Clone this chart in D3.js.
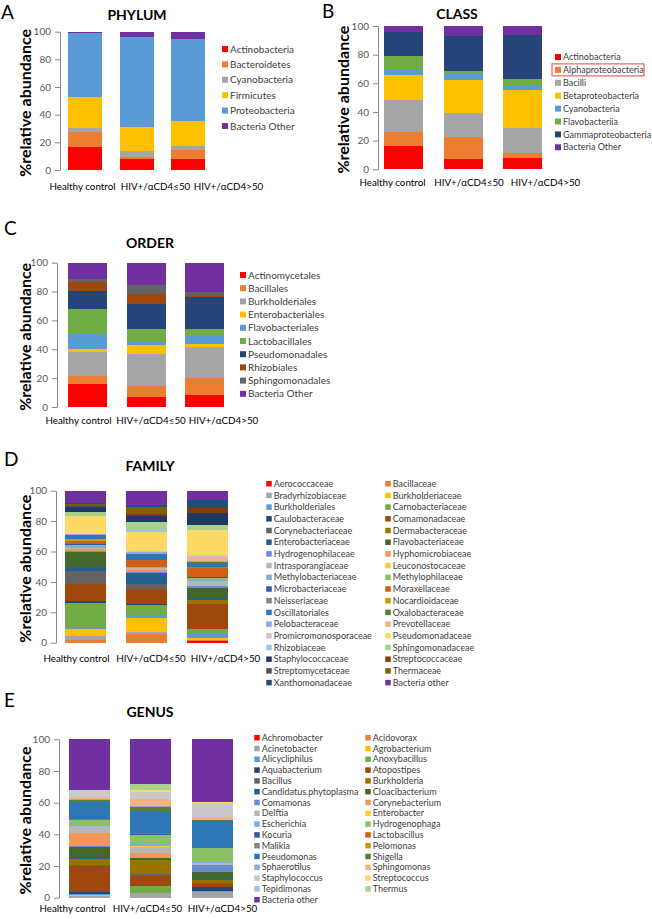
<!DOCTYPE html>
<html>
<head>
<meta charset="utf-8">
<script src="https://cdn.jsdelivr.net/npm/d3@7"></script>
<style>
  body { margin: 0; background: #fff; }
  text { font-family: Lato, "Noto Sans", sans-serif; }
</style>
</head>
<body>
<script>
const groups = ["Healthy control", "HIV+/αCD4≤50", "HIV+/αCD4>50"];

// A: phylum
const phylumNames = ["Actinobacteria", "Bacteroidetes", "Cyanobacteria", "Firmicutes", "Proteobacteria", "Bacteria Other"];
const phylumHealthy = [16.4, 10.8, 3.4, 22.2, 46.5, 0.7];
const phylumLow     = [7.7, 1.9, 4.1, 17.4, 65.3, 3.6];
const phylumHigh    = [8.2, 6.3, 3.1, 17.6, 59.7, 5.1];

// B: class
const classNames = ["Actinobacteria", "Alphaproteobacteria", "Bacilli", "Betaproteobacteria", "Cyanobacteria", "Flavobacteriia", "Gammaproteobacteria", "Bacteria Other"];
const classHealthy = [16.3, 9.7, 22.4, 17.6, 3.3, 10.0, 16.7, 4.0];
const classLow     = [7.0, 15.8, 16.2, 23.3, 4.2, 1.9, 24.9, 6.7];
const classHigh    = [7.9, 3.3, 17.6, 26.5, 2.8, 5.2, 30.2, 6.5];

// C: order
const orderNames = ["Actinomycetales", "Bacillales", "Burkholderiales", "Enterobacteriales", "Flavobacteriales", "Lactobacillales", "Pseudomonadales", "Rhizobiales", "Sphingomonadales", "Bacteria Other"];
const orderHealthy = [15.8, 6.0, 16.1, 2.3, 10.2, 17.3, 12.9, 6.0, 1.9, 11.5];
const orderLow     = [7.0, 7.5, 22.3, 6.0, 2.0, 9.0, 17.6, 6.9, 6.2, 15.5];
const orderHigh    = [8.0, 12.4, 21.2, 1.8, 5.8, 5.1, 22.1, 0.3, 2.7, 20.6];

// D: family
const familyNames = ["Aerococcaceae", "Bacillaceae", "Bradyrhizobiaceae", "Burkholderiaceae", "Burkholderiales", "Carnobacteriaceae",
  "Caulobacteraceae", "Comamonadaceae", "Corynebacteriaceae", "Dermabacteraceae", "Enterobacteriaceae", "Flavobacteriaceae",
  "Hydrogenophilaceae", "Hyphomicrobiaceae", "Intrasporangiaceae", "Leuconostocaceae", "Methylobacteriaceae", "Methylophilaceae",
  "Microbacteriaceae", "Moraxellaceae", "Neisseriaceae", "Nocardioidaceae", "Oscillatoriales", "Oxalobacteraceae",
  "Pelobacteraceae", "Prevotellaceae", "Promicromonosporaceae", "Pseudomonadaceae", "Rhizobiaceae", "Sphingomonadaceae",
  "Staphylococcaceae", "Streptococcaceae", "Streptomycetaceae", "Thermaceae", "Xanthomonadaceae", "Bacteria other"];
const familyHealthy = [0, 2.0, 2.5, 4.3, 1.7, 15.8, 1.2, 11.0, 8.9, 0, 2.2, 10.3, 0.3, 1.2, 0.8, 0.2, 1.5, 0.3,
  1.0, 1.5, 0.3, 1.0, 2.5, 0.4, 0.3, 0.3, 0.2, 11.6, 0.3, 2.1, 3.3, 0.5, 1.3, 0.3, 0.8, 8.1];
const familyLow = [0, 5.7, 1.5, 8.8, 2.2, 6.6, 0.4, 10.2, 3.3, 0, 6.2, 1.0, 0.3, 1.5, 1.2, 0.3, 0.3, 0.2,
  0.3, 4.4, 0, 0.2, 3.7, 0.2, 1.2, 0.2, 0.2, 12.9, 1.6, 5.0, 3.7, 1.3, 0.3, 4.1, 1.4, 9.6];
const familyHigh = [1.0, 0.6, 0.4, 1.4, 2.8, 2.6, 0.4, 16.3, 0.2, 2.4, 1.2, 6.4, 1.5, 0.3, 2.8, 0.2, 0.8, 1.5,
  0.3, 6.3, 0.3, 0.3, 1.5, 1.8, 0.6, 2.3, 1.5, 16.4, 0.2, 3.1, 8.1, 2.9, 0.3, 0.2, 5.0, 6.1];

// E: genus
const genusNames = ["Achromobacter", "Acidovorax", "Acinetobacter", "Agrobacterium", "Alicycliphilus", "Anoxybacillus",
  "Aquabacterium", "Atopostipes", "Bacillus", "Burkholderia", "Candidatus.phytoplasma", "Cloacibacterium",
  "Comamonas", "Corynebacterium", "Delftia", "Enterobacter", "Escherichia", "Hydrogenophaga",
  "Kocuria", "Lactobacillus", "Malikia", "Pelomonas", "Pseudomonas", "Shigella",
  "Sphaerotilus", "Sphingomonas", "Staphylococcus", "Streptococcus", "Tepidimonas", "Thermus", "Bacteria other"];
const genusHealthy = [0, 0, 0.8, 1.2, 0.3, 0.2, 1.3, 16.2, 0.8, 3.6, 0.6, 6.8, 0.6, 8.2, 4.5, 0.2, 0.4, 3.3,
  0.3, 0.2, 0.2, 0.2, 10.7, 1.1, 0.3, 1.6, 4.2, 0.2, 0, 0, 32.0];
const genusLow = [0, 0, 3.0, 0, 0, 4.2, 0.3, 6.5, 0.7, 9.1, 0.4, 0.6, 0.2, 3.4, 3.8, 0.2, 1.9, 5.3,
  0.8, 0.2, 0, 0, 13.3, 3.6, 0.5, 4.3, 4.7, 1.0, 0, 3.8, 28.2];
const genusHigh = [0, 0, 3.5, 0, 0.5, 0, 2.8, 1.8, 0.4, 2.2, 0.3, 4.5, 4.6, 0.2, 1.3, 0, 0.3, 8.8,
  0.3, 0, 0, 0, 16.9, 0.6, 0.2, 2.0, 8.4, 0.6, 0, 0, 39.8];

// office-like palette, last series always purple
const palette = ["#FF0000", "#ED7D31", "#A5A5A5", "#FFC000", "#5B9BD5", "#70AD47",
  "#264478", "#9E480E", "#636363", "#997300", "#255E91", "#43682B",
  "#698ED0", "#F1975A", "#B7B7B7", "#FFCD33", "#7CAFDD", "#8CC168",
  "#335AA1", "#D26012", "#848484", "#CC9A00", "#2E75B6", "#548235",
  "#8FAADC", "#F4B183", "#C9C9C9", "#FFD966", "#9DC3E6", "#A9D18E",
  "#1F3864", "#843C0C", "#525252", "#7F6000", "#1F4E79"];
const otherColor = "#7030A0";

const svg = d3.select("body").append("svg")
    .attr("width", 652).attr("height", 919);

function drawPanel(p, names, rows) {
  const g = svg.append("g");
  const step = (p.c3 - p.c1) / 2;
  const pad = 1 - p.barW / step;
  const x = d3.scaleBand().domain(groups)
      .range([p.c1 - step / 2, p.c3 + step / 2])
      .paddingInner(pad).paddingOuter(pad / 2);
  // category labels sit a little wider apart than the bars
  const xl = d3.scalePoint().domain(groups).range(p.labelRange);
  const y = d3.scaleLinear().domain([0, 100]).range([p.y0, p.y100]);
  const color = d3.scaleOrdinal().domain(names)
      .range(names.map((n, i) => i === names.length - 1 ? otherColor : palette[i]));

  const table = groups.map((gr, gi) => {
    const o = { group: gr };
    names.forEach((n, i) => o[n] = rows[gi][i]);
    return o;
  });
  const series = d3.stack().keys(names)(table);

  g.append("g").selectAll("g").data(series).join("g")
      .attr("fill", d => color(d.key))
    .selectAll("rect").data(d => d).join("rect")
      .attr("x", d => x(d.data.group))
      .attr("width", x.bandwidth())
      .attr("y", d => y(d[1]))
      .attr("height", d => Math.max(0, y(d[0]) - y(d[1])))
      .attr("shape-rendering", "crispEdges");

  const ya = g.append("g").attr("transform", `translate(${p.axisX},0)`)
      .call(d3.axisLeft(y).tickValues([0, 20, 40, 60, 80, 100]).tickSize(5).tickSizeOuter(0).tickPadding(4));
  ya.select(".domain").attr("stroke", "#868686");
  ya.selectAll(".tick line").attr("stroke", "#868686");
  ya.selectAll("text").attr("fill", "#595959").style("font-size", "10px");

  const xa = g.append("g").attr("transform", `translate(0,${p.y0})`)
      .call(d3.axisBottom(xl).tickSize(0).tickPadding(p.labelPad));
  xa.select(".domain").remove();
  xa.selectAll("text").attr("fill", "#000").style("font-size", "9.8px");

  const yc = (p.y0 + p.y100) / 2 + 2;
  g.append("text").attr("x", p.ytX).attr("y", yc)
      .attr("transform", `rotate(-90,${p.ytX},${yc})`)
      .attr("text-anchor", "middle").attr("dy", "0.35em")
      .style("font-size", "16px").style("font-weight", "bold")
      .text("%relative abundance");

  g.append("text").attr("x", p.titleX).attr("y", p.titleY)
      .attr("text-anchor", "middle").attr("dy", "0.35em")
      .style("font-size", "14px").style("font-weight", "bold")
      .text(p.title);

  g.append("text").attr("x", p.letterX).attr("y", p.letterY)
      .attr("dy", "0.35em").style("font-size", "19px")
      .text(p.letter);

  const cols = p.cols || 1;
  const leg = g.append("g").selectAll("g").data(names).join("g")
      .attr("transform", (d, i) => `translate(${p.legX[i % cols]},${p.legY + Math.floor(i / cols) * p.legDy})`);
  leg.append("rect").attr("x", -p.sq / 2).attr("y", -p.sq / 2)
      .attr("width", p.sq).attr("height", p.sq).attr("fill", d => color(d));
  leg.append("text").attr("x", p.sq / 2 + 2).attr("dy", "0.35em")
      .attr("fill", "#404040").style("font-size", p.legFont + "px")
      .text(d => d);
  return { g, leg };
}

drawPanel({ letter: "A", letterX: 1, letterY: 12, title: "PHYLUM", titleX: 137, titleY: 15,
  c1: 85, c3: 188, barW: 34, axisX: 60, y0: 170, y100: 31.7, ytX: 25,
  labelRange: [82, 228], labelPad: 13,
  legX: [225], legY: 49, legDy: 15.4, sq: 6, legFont: 10 },
  phylumNames, [phylumHealthy, phylumLow, phylumHigh]);

const b = drawPanel({ letter: "B", letterX: 322, letterY: 11, title: "CLASS", titleX: 457, titleY: 14,
  c1: 403.5, c3: 522.5, barW: 39, axisX: 378, y0: 169.3, y100: 26, ytX: 343,
  labelRange: [392, 545], labelPad: 10,
  legX: [558], legY: 57, legDy: 12.9, sq: 6, legFont: 9 },
  classNames, [classHealthy, classLow, classHigh]);
// red box around the highlighted legend entry
b.leg.filter(d => d === "Alphaproteobacteria").append("rect")
    .attr("x", -6).attr("y", -6).attr("width", 92).attr("height", 12)
    .attr("fill", "none").attr("stroke", "#E8413C").attr("stroke-width", 1);

drawPanel({ letter: "C", letterX: 4, letterY: 228, title: "ORDER", titleX: 150, titleY: 243,
  c1: 87.5, c3: 204.5, barW: 39, axisX: 57, y0: 407, y100: 262.7, ytX: 25,
  labelRange: [78, 223], labelPad: 10,
  legX: [243], legY: 275, legDy: 13.2, sq: 6, legFont: 10 },
  orderNames, [orderHealthy, orderLow, orderHigh]);

drawPanel({ letter: "D", letterX: 4, letterY: 459, title: "FAMILY", titleX: 150, titleY: 466,
  c1: 85.5, c3: 207, barW: 41, axisX: 56, y0: 642.7, y100: 490.7, ytX: 25,
  labelRange: [76, 225], labelPad: 12,
  legX: [269, 388], legY: 483.7, legDy: 11.7, sq: 5.5, legFont: 9, cols: 2 },
  familyNames, [familyHealthy, familyLow, familyHigh]);

drawPanel({ letter: "E", letterX: 4, letterY: 700, title: "GENUS", titleX: 150, titleY: 712,
  c1: 89.5, c3: 212, barW: 41, axisX: 59, y0: 897.7, y100: 739.3, ytX: 25,
  labelRange: [72, 222], labelPad: 7,
  legX: [257, 368], legY: 737.7, legDy: 10.8, sq: 5.5, legFont: 9, cols: 2 },
  genusNames, [genusHealthy, genusLow, genusHigh]);
</script>
</body>
</html>
